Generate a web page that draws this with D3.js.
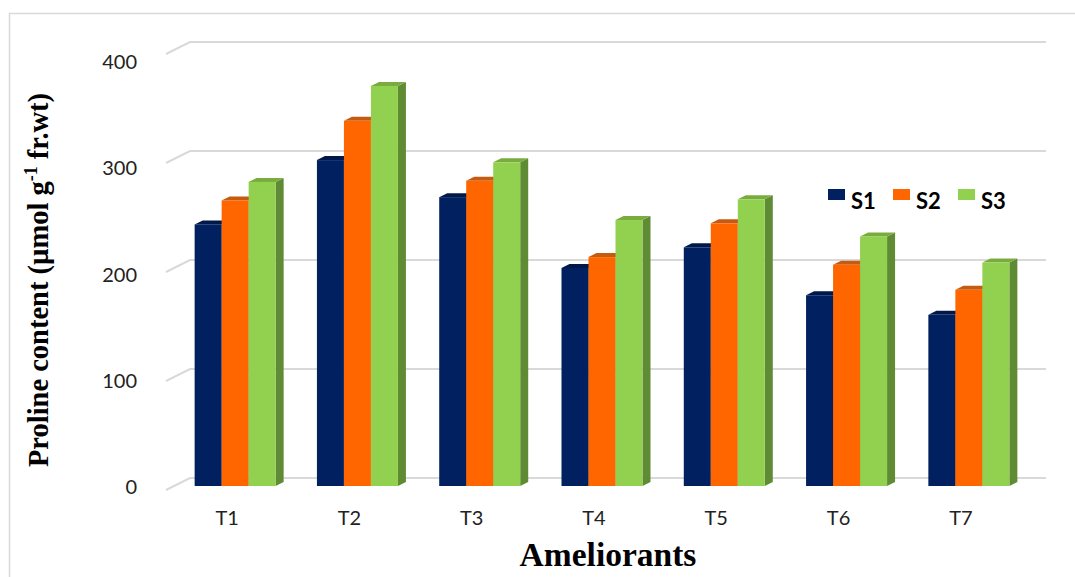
<!DOCTYPE html>
<html>
<head>
<meta charset="utf-8">
<script src="https://cdn.jsdelivr.net/npm/d3@7"></script>
<style>
  html, body { margin: 0; padding: 0; background: #fff; }
  svg { display: block; }
</style>
</head>
<body>
<svg id="chart" width="1075" height="577"></svg>
<script>
// Proline content per ameliorant treatment under three salinity levels
const categories = ["T1", "T2", "T3", "T4", "T5", "T6", "T7"];
const seriesNames = ["S1", "S2", "S3"];
const s1Values = [240, 299, 265, 200, 219, 175, 157];
const s2Values = [262, 335, 280, 210, 241, 203, 180];
const s3Values = [279, 367, 297, 244, 263, 229, 205];
const yTicks = [0, 100, 200, 300, 400];

const seriesValues = [s1Values, s2Values, s3Values];

// face colours: front, top, side
const palette = [
  { front: "#002060", top: "#00184a", side: "#001640" },
  { front: "#FF6600", top: "#C55A11", side: "#B84E0A" },
  { front: "#92D050", top: "#78AD3E", side: "#5F8B34" }
];

const svg = d3.select("#chart");

// chart border
svg.append("rect")
  .attr("x", 9.5).attr("y", 13.5)
  .attr("width", 1100).attr("height", 600)
  .attr("fill", "none").attr("stroke", "#d9d9d9").attr("stroke-width", 1.5);

// front plane of the 3-D box; depth shifts right and up
const depth = { dx: 24, dy: -12 };
const x = d3.scaleBand().domain(categories).range([166, 1022]).paddingInner(0).paddingOuter(0);
const y = d3.scaleLinear().domain([0, 400]).range([490, 54]);
const yLabel = d3.scaleLinear().domain([0, 400]).range([487, 62]);

// gridlines: back wall + left floor diagonal
const grid = svg.append("g").attr("stroke", "#d9d9d9").attr("stroke-width", 2).attr("fill", "none");
yTicks.forEach(v => {
  const yf = y(v);
  grid.append("path")
    .attr("d", `M${x.range()[0]},${yf} L${x.range()[0] + depth.dx},${yf + depth.dy} L${x.range()[1] + depth.dx},${yf + depth.dy}`);
});

// y tick labels
svg.append("g").selectAll("text").data(yTicks).join("text")
  .attr("x", 137).attr("y", d => yLabel(d))
  .attr("dy", "0.35em")
  .attr("text-anchor", "end")
  .attr("font-family", "Lato, 'Open Sans', sans-serif")
  .attr("font-size", 20)
  .attr("fill", "#222")
  .text(d => d);

// bars sit in the middle third of the depth
const barW = 27;
const groupW = barW * seriesNames.length;
const front = { dx: depth.dx / 3, dy: depth.dy / 3 };
const face = { dx: depth.dx / 3, dy: depth.dy / 3 };

const bars = svg.append("g");
categories.forEach((cat, i) => {
  const cx = x(cat) + x.bandwidth() / 2;
  seriesValues.forEach((vals, s) => {
    const x0 = cx - groupW / 2 + s * barW + front.dx;
    const x1 = x0 + barW;
    const yb = y(0) + front.dy;
    const yt = y(vals[i]) + front.dy;
    const c = palette[s];
    // side face
    bars.append("path")
      .attr("d", `M${x1},${yt} L${x1 + face.dx},${yt + face.dy} L${x1 + face.dx},${yb + face.dy} L${x1},${yb} Z`)
      .attr("fill", c.side);
    // top face
    bars.append("path")
      .attr("d", `M${x0},${yt} L${x1},${yt} L${x1 + face.dx},${yt + face.dy} L${x0 + face.dx},${yt + face.dy} Z`)
      .attr("fill", c.top);
    // front face
    bars.append("rect")
      .attr("x", x0).attr("y", yt)
      .attr("width", barW).attr("height", yb - yt)
      .attr("fill", c.front);
  });
});

// category labels
svg.append("g").selectAll("text").data(categories).join("text")
  .attr("x", d => x(d) + x.bandwidth() / 2)
  .attr("y", 525)
  .attr("text-anchor", "middle")
  .attr("font-family", "Lato, 'Open Sans', sans-serif")
  .attr("font-size", 20)
  .attr("fill", "#222")
  .text(d => d);

// axis titles
svg.append("text")
  .attr("x", 608).attr("y", 566)
  .attr("text-anchor", "middle")
  .attr("font-family", "'Liberation Serif', 'Times New Roman', serif")
  .attr("font-weight", "bold")
  .attr("font-size", 33.5)
  .attr("fill", "#000")
  .text("Ameliorants");

const yTitle = svg.append("text")
  .attr("transform", "translate(48,280) rotate(-90)")
  .attr("text-anchor", "middle")
  .attr("font-family", "'Liberation Serif', 'Times New Roman', serif")
  .attr("font-weight", "bold")
  .attr("font-size", 28.5)
  .attr("fill", "#000");
yTitle.append("tspan").text("Proline content (\u00B5mol g");
yTitle.append("tspan").attr("dy", -11).attr("font-size", 18).text("-1");
yTitle.append("tspan").attr("dy", 11).text(" fr.wt)");

// legend
const legend = svg.append("g");
const legendX = [828, 893, 958];
seriesNames.forEach((name, s) => {
  legend.append("rect")
    .attr("x", legendX[s]).attr("y", 189)
    .attr("width", 17).attr("height", 11)
    .attr("fill", palette[s].front);
  legend.append("text")
    .attr("x", legendX[s] + 23).attr("y", 209)
    .attr("font-family", "Lato, 'Open Sans', sans-serif")
    .attr("font-weight", "bold")
    .attr("font-size", 22)
    .attr("fill", "#000")
    .text(name);
});
</script>
</body>
</html>
